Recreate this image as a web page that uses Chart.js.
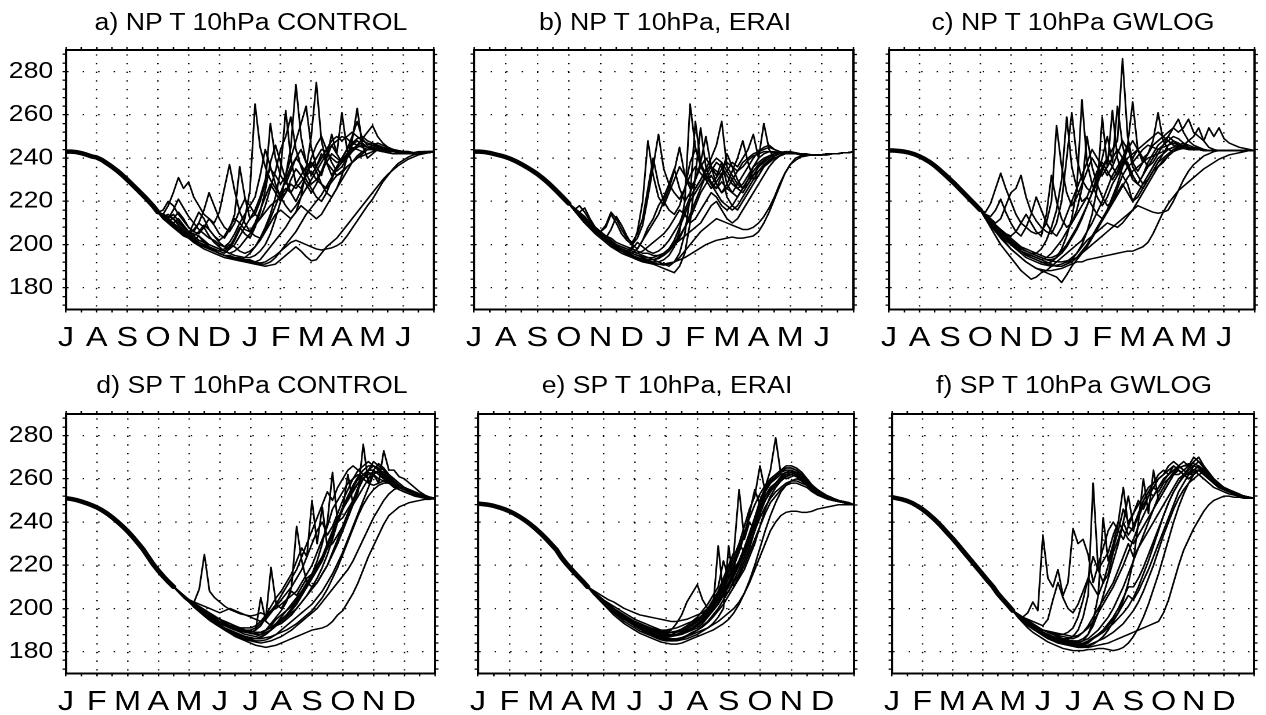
<!DOCTYPE html>
<html>
<head>
<meta charset="utf-8">
<title>Polar cap temperature at 10 hPa</title>
<script src="https://cdn.jsdelivr.net/npm/chart.js@4.4.1/dist/chart.umd.min.js"></script>
<style>
  html, body { margin: 0; padding: 0; background: #fff; }
  body { width: 1266px; height: 715px; position: relative; overflow: hidden;
         font-family: "Liberation Sans", Arial, Helvetica, sans-serif; }
  .panel { position: absolute; transform-origin: 0 0; }
  .panel canvas { display: block; }
  .title { position: absolute; width: 400px; text-align: center; font-size: 23px; line-height: 23px;
           white-space: nowrap; color: #000; transform-origin: 50% 0; }
</style>
</head>
<body>
<script>
// x axis: 5-day steps, 6 per month, 0..72 = one year
const nhMonths = ['J', 'A', 'S', 'O', 'N', 'D', 'J', 'F', 'M', 'A', 'M', 'J'];
const shMonths = ['J', 'F', 'M', 'A', 'M', 'J', 'J', 'A', 'S', 'O', 'N', 'D'];
const yTickLabels = [180, 200, 220, 240, 260, 280];
const titles = [
  'a) NP T 10hPa CONTROL', 'b) NP T 10hPa, ERAI', 'c) NP T 10hPa GWLOG',
  'd) SP T 10hPa CONTROL', 'e) SP T 10hPa, ERAI', 'f) SP T 10hPa GWLOG'
];

// --- a) NP CONTROL: shared bundle Jul-Sep, then members from step 18 (Oct 1)
const aCore = [243, 243, 242.8, 242.3, 241.6, 240.8, 240.3, 239.2, 237.6, 236, 234.2, 232.2, 230, 227.7, 225.4, 223, 220.6, 218, 215];
const aFrom = 18;
const aRuns = [
  [215,213,211,209,207,205, 203,201,199.5,198,197,196, 195,194,193.5,193,192.5,192, 191.5,191,190.5,190,190.5,191, 193,195,197,199,197,194.5, 192.5,193,196,199,201,203, 206,209,212,215,218,221, 224,227,230,232.5,234.5,236.5, 238,239.5,240.5,241.5,242,242.5,243],
  [215,212,210,208,206.5,205, 203,202,204,201,199,198, 197,196,198,202,207,212, 225,265,245,236,230,226, 222,224,228,226,229,232, 234,230,228,226,229,232, 234,236,238,240,241,242, 243,244,244,243.5,243,243, 243,242.5,242.5,242.5,242.5,242.5,243],
  [215,214,213,212,210,208, 206,205,204,202,200,199, 198,197,196,195,194.5,194, 194,195,197,200,205,212, 220,232,245,274,250,238, 232,236,242,238,235,232, 233,236,238,240,242,244, 246,247,246,245,244,243.5, 243,243,242.5,242.5,242.5,242.5,243],
  [215,213,214,212,209,207, 205,203,201,200,198,197, 196,195,195,194,194,193, 193,192,193,196,199,202, 205,208,212,215,222,235, 250,275,248,238,232,236, 240,244,247,249,250,248, 247,246,245,244,243.5,243, 243,242.5,242.5,242.5,242.5,242.5,243],
  [215,214,218,224,231,226, 229,222,218,214,212,210, 215,226,237,225,215,210, 206,204,203,207,212,218, 224,230,236,240,237,233, 228,230,234,240,246,242, 238,241,244,246,247,245, 246,245,244,243,243,243, 242.5,242.5,242.5,243,243,243,243],
  [215,213,211,212,215,212, 208,206,205,208,212,209, 205,203,207,214,236,222, 212,214,220,228,256,240, 232,228,234,240,244,238, 236,240,244,243,240,238, 239,242,245,244,243,244, 244,243.5,243,243,243,242.5, 242.5,242.5,242.5,242.5,243,243,243],
  [215,213,211,209,207,205.5, 204,202,201,200,198.5,197, 196,195,194,193.5,193,194, 196,199,203,208,214,222, 234,262,240,228,226,232, 238,234,228,224,222,226, 232,240,248,263,246,240, 242,244,243,242.5,242,242, 242,242,242,242.5,242.5,242.5,243],
  [215,214,212,210,208,206, 205,210,215,212,207,204, 201,199,198,200,204,208, 212,216,222,230,235,232, 228,232,240,248,256,264, 245,236,232,240,251,242, 261,244,238,240,242,244, 245,246,245,244,243.5,243, 243,242.5,242.5,242.5,242.5,243,243],
  [215,212,210,208,206,204.5, 203,201.5,200,199,198,197, 196,195,194.5,194,193.5,193, 192.5,192,191.5,192,193.5,195, 197,200,203,206,210,214, 217,220,223,227,231,235, 238,240,243,246,249,252, 255,250,247,245,244,243.5, 243,243,242.5,242.5,242.5,242.5,243],
  [215,216,220,218,214,211, 208,206,210,216,224,218, 212,208,206,210,216,221, 218,214,212,218,226,234, 244,250,259,244,236,230, 226,222,220,224,230,236, 240,244,250,257,249,246, 247,246,244.5,244,243.5,243, 243,243,242.5,242.5,242.5,243,243],
  [215,213,211,209.5,208,206, 204,203,201,199.5,198,197, 196,195,194.5,193.5,193,192.5, 192,191.5,191,191,192,194, 197,199,201,202,201,200, 199,198,197.5,198,198.5,199.5, 201,204,207.5,211,214.5,218, 221,225,229,232,235,237.5, 239,240.5,241.5,242,242.5,242.5,243],
  [215,214,212,216,221,217, 213,210,207,205,203,202, 200,199,201,205,210,214, 218,222,232,244,236,228, 222,218,215,218,222,226, 230,234,238,242,246,248, 250,249,247,246,245,244, 244,243.5,243,243,243,243, 242.5,242.5,242.5,242.5,243,243,243],
  [215,213,212,214,211,208, 206,204,206,209,207,204, 202,204,208,212,210,207, 206,210,216,222,228,224, 220,224,230,235,232,228, 224,228,234,238,242,240, 238,242,246,248,246,245, 245,244.5,244,243.5,243,243, 243,242.5,242.5,242.5,242.5,243,243],
  [215,212.5,210,208,206,204, 203,202,200,199,198,197.5, 197,198,200,199,197,196, 197,199,202,206,210,214, 216,214,212,215,218,216, 214,212,214,218,222,226, 230,234,238,241,243,244, 244,244,243.5,243,243,243, 243,242.5,242.5,242.5,242.5,242.5,243],
  [215,213,211,210,212,209, 206,204,202,201,200,199, 198,197,199,203,208,205, 203,208,215,225,238,246, 238,230,224,220,225,232, 240,246,250,244,238,234, 236,240,243,245,246,245, 244.5,244,243.5,243,243,243, 243,242.5,242.5,242.5,242.5,242.5,243],
  [215,213,211,209,207,206, 205,207,210,208,204,201, 199,197,196,197,199,202, 205,209,212,215,218,220, 222,226,224,228,232,236, 238,236,240,244,248,250, 248,250,252,250,248,247, 246,245.5,245,244.5,244,243.5, 243,243,242.5,242.5,242.5,242.5,243]
];

// --- b) NP ERAI
const bCore = [243, 243, 242.8, 242.4, 241.8, 241.2, 240.5, 239.6, 238.5, 237.2, 235.8, 234.3, 232.7, 230.8, 228.7, 226.4, 224, 221.5, 219];
const bFrom = 18;
const bRuns = [
  [219,216,213,210,208,206, 204,202,201,199,198,197, 199,206,220,248,232,222, 218,224,230,236,232,228, 226,230,234,237,240,238, 228,224,222,226,230,232, 234,236,238,240,241,242, 242.5,242,242,241.5,241.5,241.5, 241.5,241.5,242,242,242.5,242.5,243],
  [219,217,214,212,209,207, 205,203,207,213,209,204, 200,203,209,222,236,251, 235,228,224,221,226,232, 236,233,230,234,238,236, 232,228,226,228,232,236, 238,240,241,242,242.5,242.5, 242.5,242,242,242,241.5,241.5, 241.5,242,242,242,242.5,242.5,243],
  [219,216,213,211,208.5,206, 204,202,200,198.5,197,196, 195,194,193,192.5,192,192, 193,195,199,206,220,265, 245,236,232,228,231,235, 238,236,234,236,239,241, 242,243,243,243,242.5,242.5, 242.5,242,242,241.5,241.5,241.5, 241.5,242,242,242,242.5,242.5,243],
  [219,217,215,217,212,208, 206,204,202,200,199,198, 197,196,195,194,193,192, 191,190,192,196,205,222, 257,238,230,226,229,233, 222,218,216,220,224,228, 232,236,238,240,241,242, 242,242,242,241.5,241.5,241.5, 241.5,241.5,242,242,242.5,242.5,243],
  [219,216,214,211,209,207, 205,203,201,199.5,198,196.5, 195,194,193,192,191,190, 189,188,187,190,196,210, 232,254,236,228,224,220, 218,216,218,222,226,230, 234,237,239,241,242,242, 242,242,242,241.5,241.5,241.5, 241.5,242,242,242,242.5,242.5,243],
  [219,216,213,210,208,206, 204,202,200,198,197,196, 198,201,199,197,196,197, 199,202,206,210,216,222, 226,230,235,240,246,257, 236,232,228,226,230,236, 240,242,243,242.5,242.5,242, 242,242,242,241.5,241.5,241.5, 241.5,242,242,242,242.5,242.5,243],
  [219,216,214,212,210,208, 206,204,203,201,200,199, 198,197,196,196,195,195, 196,198,202,208,214,220, 224,228,232,236,234,232, 234,238,236,240,244,251, 240,256,244,240,241,242, 242.5,242.5,242,242,241.5,241.5, 241.5,241.5,242,242,242.5,242.5,243],
  [219,216,213,210,207.5,205, 203,201,199,197.5,196,195, 194,193,192,191.5,191,191, 191,191.5,192,193,194,195.5, 197,198.5,200,201,202,202.5, 203,203.5,203,203,203.5,204, 206,210,215,221,227,233, 237,239,240.5,241,241.5,241.5, 241.5,242,242,242,242.5,242.5,243],
  [219,217,215,213,210,208, 206,208,214,210,205,202, 200,198,202,208,212,218, 222,228,235,226,220,224, 230,236,240,236,232,238, 234,230,226,224,228,232, 236,238,240,242,242.5,242.5, 242,242,242,241.5,241.5,241.5, 241.5,242,242,242,242.5,242.5,243],
  [219,216,214,211,209,206.5, 204.5,202,200,198,197,195.5, 194.5,193.5,192.5,192,191.5,191, 190.5,191,192,194,197,200, 203,206,208,210,212,211, 210,209,208,207,207,208, 210,213,217,222,228,233, 237,240,241,241.5,241.5,241.5, 241.5,242,242,242,242.5,242.5,243],
  [219,216,218,215,211,208, 206,209,215,212,207,203, 201,205,212,226,240,228, 220,216,214,218,226,238, 244,238,232,228,226,229, 226,224,228,232,236,240, 243,245,246,244,243,242.5, 242,242,241.5,241.5,241.5,241.5, 241.5,242,242,242,242.5,242.5,243],
  [219,216,213,211,208,206, 204,202,200,199,198,197, 196,195,194,193,193,193.5, 195,197,200,203,208,214, 220,226,232,229,226,232, 242,236,230,226,228,232, 236,239,241,242,242.5,243, 243,242.5,242,242,241.5,241.5, 241.5,242,242,242,242.5,242.5,243],
  [219,216,213,211,209,207, 205,203,201,200,199,198, 197,196,197,199,201,203, 205,208,212,216,214,210, 212,216,220,224,222,218, 216,218,222,226,230,234, 237,239,241,242,242.5,242.5, 242.5,242,242,241.5,241.5,241.5, 241.5,242,242,242,242.5,242.5,243],
  [219,217,214,212,210,207, 205,203,201,199,198,197, 196,198,202,206,210,214, 220,226,234,245,232,226, 230,238,250,236,228,224, 226,230,234,238,240,242, 243,244,245,244,243,242.5, 242,242,242,241.5,241.5,241.5, 241.5,242,242,242,242.5,242.5,243],
  [219,216,214,212,209,207, 205,202,200,198.5,197,196, 195,194,193.5,193,193,194, 196,198,201,204,208,212, 218,224,228,232,228,224, 228,234,240,248,238,230, 232,236,239,241,242,242.5, 242.5,242,242,241.5,241.5,241.5, 241.5,242,242,242,242.5,242.5,243],
  [219,216,213,210,208,206, 204,202,200,199,198,197, 196,195,194.5,194,194,195, 196,198,200,202,204,206, 208,210,214,218,220,216, 212,210,212,216,220,224, 228,232,236,239,241,242, 242.5,242,242,241.5,241.5,241.5, 241.5,242,242,242,242.5,242.5,243]
];

// --- c) NP GWLOG
const cCore = [243.5, 243.5, 243.3, 243, 242.5, 241.8, 240.8, 239.6, 238.2, 236.5, 234.5, 232.4, 230.2, 228, 225.6, 223.2, 220.8, 218.4, 216];
const cFrom = 18;
const cRuns = [
  [216,212,208,204,200,197, 194,191,188,186,184,185, 187,188,190,192,194,196, 198,200,202,206,210,215, 220,226,232,236,240,238, 232,228,226,230,234,238, 240,242,244,245,245,244, 244,244,243.5,243.5,243.5,243.5, 243.5,243.5,243.5,243.5,243.5,243.5,243.5],
  [216,213,210,207,204,201, 198,196,194,192,190.5,189, 188,187,186,185,182.5,186, 190,193,196,199,203,207, 211,215,219,223,227,231, 234,236,238,240,241,242, 243,244,245,245.5,246,245, 244.5,244,244,243.5,243.5,243.5, 243.5,243.5,243.5,243.5,243.5,243.5,243.5],
  [216,215,219,226,233,226, 220,214,210,208,206,205, 206,210,220,255,236,224, 218,222,228,234,240,236, 232,236,240,244,240,236, 238,241,244,246,245,244, 245,246,247,246,245,244.5, 244,244,243.5,243.5,243.5,243.5, 243.5,243.5,243.5,243.5,243.5,243.5,243.5],
  [216,214,212,210,212,218, 224,226,232,222,215,211, 208,206,205,210,220,240, 261,240,230,226,224,228, 234,240,236,232,238,244, 248,244,240,242,246,248, 250,248,246,245,244.5,244, 244,244,243.5,243.5,243.5,243.5, 243.5,243.5,243.5,243.5,243.5,243.5,243.5],
  [216,213,210,208,206,204, 202,200,198,197,196,196, 198,202,208,216,230,259, 236,226,220,222,228,234, 238,234,230,234,240,246, 236,232,228,230,234,238, 242,246,248,247,245.5,244.5, 244,244,243.5,243.5,243.5,243.5, 243.5,243.5,243.5,243.5,243.5,243.5,243.5],
  [216,213,211,209,207,204, 201,199,197,195,194,193, 192,191.5,192,194,198,204, 212,226,267,238,228,222, 218,222,228,232,236,240, 242,244,240,236,238,242, 246,250,254,258,252,248, 246,245,244,243.5,243.5,243.5, 243.5,243.5,243.5,243.5,243.5,243.5,243.5],
  [216,213,211,208,206,203, 201,199,197,196,195,194, 193,192,191,190,190,191, 193,196,200,206,214,226, 259,236,262,240,232,228, 220,224,228,232,236,240, 242,244,245,246,247,246, 245,244.5,244,243.5,243.5,243.5, 243.5,243.5,243.5,243.5,243.5,243.5,243.5],
  [216,214,212,209,207,205, 203,201,199,198,197,196, 195,194,194,195,197,200, 204,208,213,218,224,230, 236,240,244,248,286,250, 238,234,238,242,246,248, 250,248,246,245,244.5,244, 244,244,243.5,243.5,243.5,243.5, 243.5,243.5,243.5,243.5,243.5,243.5,243.5],
  [216,213,210,208,205,203, 201,199,197,195.5,194,193, 192,191,190.5,190,190,191, 192,194,197,200,204,208, 212,216,222,228,236,246, 266,244,238,242,248,261, 248,244,243,244,246,248, 250,254,248,245,244,243.5, 243.5,243.5,243.5,243.5,243.5,243.5,243.5],
  [216,212.5,209,206,203,200.5, 198,196,194,192,190.5,189, 188.5,188,188,188.5,189,190, 191,192,192,193,193.5,194, 194.5,195,195.5,196,196.5,197, 197,198,199,201,205,210, 215,219,222,225,227,229, 231,233,235,236.5,238,239.5, 240.5,241.5,242,242.5,243,243.5,243.5],
  [216,213,211,208.5,206,204, 202,200,198.5,197,196,195, 194,193,192.5,192,192,192.5, 193,194,196,198,200,202, 204,206,208,210,212,214, 216,218,217,216,215,214.5, 215,216,220,225,230,234, 237,239,241,242,243,243.5, 243.5,243.5,243.5,243.5,243.5,243.5,243.5],
  [216,214,213,216,221,215, 210,206,204,208,214,222, 216,210,206,204,208,214, 220,226,232,238,244,240, 236,232,236,242,248,244, 240,244,246,248,250,252, 250,252,254,252,254,258, 252,250,248,254,250,254, 249,247,246,245,244.5,244,243.5],
  [216,213,210,207,205,203, 201,199,197,196,195,194, 193,194,196,199,202,206, 210,214,218,222,218,214, 212,216,220,224,228,224, 220,222,226,230,234,236, 238,241,243,245,246,245, 244.5,244,243.5,243.5,243.5,243.5, 243.5,243.5,243.5,243.5,243.5,243.5,243.5],
  [216,214,211,209,207,205, 204,206,210,214,210,206, 204,214,232,220,212,208, 210,216,226,250,236,228, 222,218,220,226,232,236, 232,228,232,238,242,246, 248,250,248,246,245,244.5, 244,244,243.5,243.5,243.5,243.5, 243.5,243.5,243.5,243.5,243.5,243.5,243.5],
  [216,213,211,209,206,204, 202,200,198,197,196,195, 194,193,193,194,196,199, 203,207,212,218,224,232, 240,250,238,264,246,236, 230,228,232,236,240,244, 246,248,250,249,247,245, 244.5,244,243.5,243.5,243.5,243.5, 243.5,243.5,243.5,243.5,243.5,243.5,243.5],
  [216,212,209,206,204,202, 200,198,196,194,193,192, 191,190.5,190,190.5,191,192, 194,196,199,202,204,206, 208,210,209,208,210,213, 216,220,224,228,232,236, 239,241,243,244,244.5,244.5, 244,244,243.5,243.5,243.5,243.5, 243.5,243.5,243.5,243.5,243.5,243.5,243.5]
];

// --- d) SP CONTROL: shared bundle Jan-mid Apr, members from step 21
const dCore = [251, 250.7, 250.2, 249.5, 248.7, 247.8, 246.8, 245.5, 244, 242.2, 240.2, 238.1, 235.8, 233.2, 230.4, 227.5, 224, 220.5, 217.5, 214.8, 212.3, 210];
const dFrom = 21;
const dRuns = [
  [210,208,206, 204,203,209,225,208,205, 203,201,199.5,198.5,197.5,197, 196.5,197,198,197,199,200, 202,204,206,208,212,216, 220,226,232,238,246,250, 254,258,260,262,260,258, 257,258,259,258,257,256, 255,254,253,252,251.5,251,251],
  [210,208,205.5, 203.5,201.5,199.5,198,196.5,195, 193.5,192.5,191.5,190.5,190,189.5, 189,190,192,196,219,202, 200,204,208,206,210,214, 216,220,224,230,236,242, 246,250,254,258,262,264, 264,262,260,258,257,256, 255,254,253,252,251.5,251,251],
  [210,208,205.5, 203,201,199,197.5,196,194.5, 193,192,191,190,189,188, 187.5,187,188,190,193,196, 199,203,210,238,222,212, 210,212,216,220,226,232, 238,244,250,256,260,263, 262,260,259,258,257,256, 255,254,253,252,251.5,251,250.5],
  [210,208,206, 204,202,200,199,197.5,196, 195,194,193,191.5,190.5,190, 190,191,193,195,198,201, 204,207,210,214,218,224, 250,230,247,228,230,234, 238,244,250,255,260,264, 266,264,262,260,258,256, 255,254,253,252.5,252,251.5,251],
  [210,208,205.5, 203.5,201,199,197,195.5,194, 192.5,191,190,189,188,187, 186.5,186,186.5,188,190,193, 196,199,202,205,208,212, 216,222,230,240,263,240, 242,246,250,256,260,264, 268,266,264,261,259,257, 256,255,254,253,252,251.5,251],
  [210,208,206, 204,202,200,198,196.5,195, 194,193,192,191,190,189, 188.5,188,188,189,190,192, 194,196,198,200,203,206, 209,212,216,220,225,230, 236,242,248,254,276,258, 262,264,263,261,259,257, 256,254.5,253.5,252.5,252,251.5,251],
  [210,207.5,205, 203,201,199,197,195,193.5, 192,190.5,189,188,187,186, 185.5,185,185,185.5,186.5,188, 190,192,194,196,198,200, 202,205,208,212,216,221, 226,232,238,244,250,256, 262,258,273,264,264,261, 260,258,256,254,252.5,251.5,251],
  [210,207.5,205, 203,200.5,198.5,196.5,194.5,193, 191.5,190,188.5,187,186,185, 184,183,182.5,182,182.5,183, 184,185,186,187,188,189, 190,190.5,191,192,194,197, 199,203,207,212,218,224, 229,234,239,243,245,247, 248,249,249.5,250,250.5,250.5,251],
  [210,208,206, 204,202.5,201,199.5,198,196.5, 195,193.5,192,191,190,189.5, 189,190,205,194,192,195, 197,199,201,204,207,210, 214,218,222,228,234,240, 246,252,256,260,262,264, 264,262,260,258,256,255, 254,253,252.5,252,251.5,251,251],
  [210,208,205.5, 203,201,199,197,195,193.5, 192,190.5,189,188,187,186.5, 186,186,187,188.5,190,192, 193,195,197,200,203,206, 210,214,219,225,232,240, 246,262,248,252,256,260, 264,267,265,262,260,258, 256,255,254,253,252,251.5,251],
  [210,207.5,205, 203,201,199,197,195,193, 191.5,190,188.5,187.5,186.5,185.5, 185,184.5,184,184.5,185,186, 187,188.5,190,192,194,196, 198,200,203,206,209,212, 215,218,222,227,232,237, 242,246,250,253,255,256, 256,255,254,253,252,251.5,251],
  [210,208,206, 204,203,202,201,200,199, 198,199,200,199,198,197, 196,195,194,196,199,202, 206,210,214,218,224,230, 236,242,248,254,250,256, 260,264,266,264,262,260, 262,264,262,260,258,256, 255,254,253,252,251.5,251,251],
  [210,208,205.5, 203,201,199,197.5,196,194.5, 193,192,191,190,189.5,189, 188.5,188.5,189,190,191.5,193, 195,197,200,203,207,211, 215,219,224,229,235,241, 247,252,257,261,264,266, 266,265,262,260,258,256, 255,254,253,252,251.5,251,251],
  [210,208,206, 204,202,200,198.5,197,195.5, 194,193,192,191.5,191,191, 191,192,194,197,201,205, 208,212,216,222,228,224, 230,236,240,234,238,244, 250,255,260,264,266,268, 266,264,261,259,257,255, 254,253,252,251.5,251,251,251],
  [210,207.5,205, 203,201,199,197,195,193.5, 192,190.5,189.5,188.5,187.5,187, 186.5,186,186,186.5,187,188, 189,190,191.5,193,195,197, 199,202,205,209,214,219, 225,231,237,243,248,252, 255,257,258,258,257,256, 255,254,253,252,251.5,251,251],
  [210,208,206, 204,202,200.5,199,197.5,196, 195,194,193,192,191,190, 189.5,189,189,190,191,192.5, 194,196,199,202,206,210, 214,218,223,228,234,240, 246,251,255,258,260,262, 263,263,261,259,257,255, 254,253,252.5,252,251.5,251,251]
];

// --- e) SP ERAI
const eCore = [248.5, 248.3, 248, 247.5, 246.8, 246, 245, 243.8, 242.4, 240.8, 239, 237, 234.8, 232.4, 229.8, 227.2, 223.5, 220.5, 217.8, 215.2, 212.7, 210];
const eFrom = 21;
const eRuns = [
  [210,207.5,205, 203,201,199,197.5,196,194.5, 193,192,191,190,189.5,189, 189,190,193,197,203,207, 211,204,200,202,206,210, 214,218,222,228,234,240, 246,252,256,258,260,262, 263,262,261,259,257,255, 253.5,252,251,250,249,248.5,248],
  [210,208,205.5, 203.5,201.5,199.5,198,196.5,195, 194,193,192,191,190,189, 188.5,188,188,188.5,189,190, 191,193,196,200,229,206, 208,212,216,222,228,236, 244,250,254,258,260,262, 262,261,260,258,256,254, 253,252,251,250,249,248.5,248],
  [210,207.5,205, 203,200.5,198.5,196.5,195,193.5, 192,190.5,189,188,187,186, 185.5,185,185,185.5,186,187, 188,189.5,191,193,196,200, 229,210,214,218,224,230, 238,246,252,256,259,261, 262,261,259,257,255,253, 252,251,250,249.5,249,248.5,248],
  [210,208,206, 204,202,200,198,196.5,195, 193.5,192,191,190,189,188.5, 188,188,189,190,191.5,193, 195,197,200,203,207,212, 218,224,230,238,246,252, 266,254,258,260,262,263, 264,262,260,258,256,254, 253,252,251,250,249.5,249,248],
  [210,207.5,205, 203,201,199,197,195.5,194, 192.5,191,190,189,188,187.5, 187,187,187.5,188,189,190.5, 192,194,196,199,202,206, 210,215,220,226,232,240, 248,256,264,279,262,260, 261,262,260,258,256,254, 252.5,251.5,250.5,250,249,248.5,248],
  [210,207,204.5, 202,199.5,197,195,193,191.5, 190,188.5,187.5,186.5,185.5,184.5, 184,183.5,183.5,184,185,186, 187,188,189,190,191.5,193, 195,198,202,207,213,220, 228,236,243,249,254,257, 259,259,258,257,255,253, 252,251,250,249.5,249,248.5,248],
  [210,208,205.5, 203.5,201.5,199.5,197.5,196,194.5, 193,192,191,190,189,188, 187.5,187.5,188,189,190,191, 193,195,198,201,205,209, 214,220,226,234,244,255, 248,252,256,258,260,261, 262,263,261,259,257,254, 253,252,251,250,249.5,249,248],
  [210,207.5,205, 202.5,200,198,196,194,192.5, 191,189.5,188.5,187.5,186.5,185.5, 185,185,185.5,186,187,188, 189,190,191,192.5,194,196, 198,200,203,207,212,218, 224,230,236,240,243,244.5, 245,245,244.5,244.5,245,246, 246.5,247,247.5,248,248,248,248],
  [210,208,206, 204,202.5,201,199.5,198,196.5, 195,194,193,192,191,190, 189.5,189,189,189.5,190.5,192, 194,196,198,201,204,208, 212,217,222,228,235,242, 249,254,258,261,263,265, 265,264,262,259,256,253, 252,251,250,249.5,249,248.5,248],
  [210,208.5,207, 205.5,204,203,201.5,200,199, 198,197,196.5,196,195.5,195, 194.5,194,194,194.5,195,196, 197,198,200,202,205,208, 212,216,221,226,232,238, 244,250,255,258,261,263, 263,262,260,258,255,253, 252,251,250,249.5,249,248.5,248],
  [210,207.5,205, 203,201,199,197.5,196,194.5, 193,191.5,190,189,188,187, 186.5,186,186,186.5,187.5,189, 190,192,194,197,200,204, 208,213,218,224,230,236, 242,247,251,254,256,258, 259,260,259,257,255,253, 252,251,250,249.5,249,248.5,248],
  [210,208,205.5, 203.5,201.5,199.5,198,196.5,195, 194,193,192,191,190.5,190, 190,190.5,191,192,193,194, 195,197,200,204,208,214, 220,226,255,232,240,236, 246,254,260,262,264,266, 266,265,263,260,257,255, 253,252,251,250,249,248.5,248],
  [210,207.5,205, 203,201,199,197,195.5,194, 192.5,191.5,190.5,189.5,188.5,188, 187.5,187.5,188,188.5,189.5,191, 192.5,194.5,197,200,203,207, 211,216,221,227,233,239, 245,250,254,257,259,261, 262,261,260,258,256,254, 252.5,251.5,250.5,250,249,248.5,248],
  [210,208,206, 204,202,200,198.5,197,195.5, 194,193,192,191,190,189.5, 189,189,189.5,190,191,192.5, 194,196,199,202,206,211, 216,222,228,235,242,248, 253,257,260,262,264,265, 265,264,262,260,257,255, 253,252,251,250,249,248.5,248],
  [210,207.5,205, 202.5,200.5,198.5,196.5,195,193.5, 192,190.5,189.5,188.5,187.5,186.5, 186,185.5,185.5,186,187,188.5, 190,191.5,193.5,196,199,202, 206,210,215,220,226,232, 238,244,249,252,255,257, 258,258,257,256,254,252.5, 251.5,250.5,250,249.5,249,248.5,248],
  [210,208,205.5, 203.5,201.5,199.5,198,196.5,195, 193.5,192.5,191.5,190.5,190,189.5, 189,189,189.5,190.5,192,194, 196,199,202,206,210,222, 214,218,230,226,234,242, 250,256,259,261,263,264, 264,263,261,258,256,254, 252.5,251.5,250.5,250,249,248.5,248]
];

// --- f) SP GWLOG: members from step 24 (May 1)
const fCore = [251.5, 251, 250.5, 249.8, 248.8, 247.5, 246, 244.2, 242.2, 240, 237.6, 235, 232.5, 229.8, 227, 224.2, 221.4, 218.6, 215.8, 213, 210.3, 207, 204.3, 201.7, 199];
const fFrom = 24;
const fRuns = [
  [199,197,196,198,203,199, 234,214,210,218,206,212, 237,230,232,225,212,220, 228,236,240,236,232,238, 244,250,246,252,256,254, 258,260,262,264,262,260, 262,264,262,260,258,256, 255,254,253,252.5,252,251.5,251],
  [199,196.5,194.5,193,191.5,190, 189,188,187,186.5,186,186, 187,190,196,206,258,218, 222,226,234,240,236,232, 230,234,238,242,246,250, 254,258,262,262,264,266, 264,262,260,258,256,255, 254,253,252.5,252,251.5,251,251],
  [199,197,195,193.5,192,190.5, 189,188,187,186,185,184.5, 184,184,185,188,194,206, 242,222,230,240,256,238, 236,244,250,254,258,260, 262,264,266,264,262,262, 264,266,264,261,258,256, 255,254,253,252.5,252,251.5,251],
  [199,197,195,193,191.5,190, 188.5,187,186,185,184,183, 182.5,182,182,182.5,183.5,185, 187,190,194,198,204,212, 222,240,260,244,264,250, 254,258,262,266,268,266, 270,268,266,263,260,257, 256,255,254,253,252,251.5,251],
  [199,197.5,196,194.5,193,191.5, 190,189,188,187,186,185.5, 185,185,186,188,192,198, 206,214,222,230,240,252, 238,242,248,252,256,260, 262,266,268,266,264,262, 262,264,262,260,258,256, 255,254,253,252,251.5,251,251],
  [199,196,193.5,191,189,187.5, 186,184.5,183.5,182.5,181.5,181, 180.5,180.5,180.5,181,181,181.5, 181.5,181,180.5,181,182,184, 187,191,196,202,209,216, 224,232,240,247,253,258, 262,264,263,261,259,257, 255.5,254.5,253.5,252.5,252,251.5,251],
  [199,196.5,194,192,190.5,189, 187.5,186,185,184,183.5,183, 182.5,182,182,182,182.5,183, 183.5,184,185,186,187,188, 189,190,191,192,193,194, 198,204,212,220,227,232, 237,241,245,248,250,251, 252,252,251.5,251.5,251,251,251],
  [199,197,195.5,194,192.5,191, 190,189,188,187.5,187,186.5, 186,187,189,192,196,200, 204,208,212,218,224,230, 224,228,232,236,240,244, 248,252,256,260,262,264, 266,265,263,260,258,256, 255,254,253,252,251.5,251,251],
  [199,197,195,193,191.5,190, 188.5,187.5,186.5,185.5,184.5,184, 183.5,183.5,184,185,186.5,188, 190,193,196,200,205,210, 210,214,219,225,231,237, 243,249,254,258,262,265, 268,270,266,262,259,257, 255.5,254.5,253.5,252.5,252,251.5,251],
  [199,197,195,193.5,192,190.5, 189,188,187,186,185,184, 183,182.5,182.5,183,184,185, 186,187.5,189,191,193,196, 199,203,208,214,220,227, 234,240,246,251,255,258, 260,262,263,262,260,258, 256,255,254,253,252,251.5,251],
  [199,197.5,196,195,194,193, 192,195,204,212,205,200, 198,202,208,214,210,206, 212,220,228,236,246,240, 244,248,252,256,258,262, 264,262,266,264,262,260, 262,264,262,260,258,256, 255,254,253,252,251.5,251,251],
  [199,197,195,193,191,189.5, 188,186.5,185.5,184.5,183.5,183, 182.5,182.5,183,184,186,188, 190,192,195,198,202,206, 204,208,213,218,224,230, 236,242,248,254,258,262, 266,268,265,262,259,257, 255.5,254.5,253.5,252.5,252,251.5,251],
  [199,197,195,193,191.5,190, 189,188,187,186,185.5,185, 184.5,184.5,185,186,188,190, 193,196,200,205,210,216, 222,228,234,240,246,252, 256,260,263,265,266,267, 267,266,264,261,258,256, 255,254,253,252.5,252,251.5,251],
  [199,197,195.5,194,192.5,191, 190,189,188.5,188,188,189, 191,196,204,214,224,218, 212,216,226,232,240,234, 238,244,250,254,252,256, 260,262,264,266,264,262, 263,264,262,260,258,256, 255,254,253,252.5,252,251.5,251],
  [199,196.5,194.5,192.5,191,189.5, 188,187,186,185,184,183.5, 183,183,183.5,184.5,186,187.5, 189,191,193,195.5,198,201, 205,210,216,222,229,236, 243,249,254,258,261,263, 264,264,263,261,259,257, 255.5,254.5,253.5,252.5,252,251.5,251],
  [199,197,195,193.5,192,191, 190,189.5,189,188.5,188,187.5, 187,187.5,189,191,194,198, 202,206,210,215,220,226, 232,238,243,248,252,256, 259,262,264,265,266,266, 266,265,263,261,258,256, 255,254,253,252.5,252,251.5,251]
];

// ---------------------------------------------------------------------
const S = 1.16;                 // the figure is stretched horizontally
const FONT = '"Liberation Sans", Arial, Helvetica, sans-serif';
const halfMonths = [];
for (let v = 0; v <= 72; v += 3) halfMonths.push(v);
const yMinor = [];
for (let v = 172; v <= 288; v += 4) yMinor.push(v);

const panels = [
  { title: titles[0], months: nhMonths, core: aCore, from: aFrom, runs: aRuns, yLab: true,  x0: 66,    x1: 436,    top: 0,   y0: 50,  y1: 309.5, h: 357, tTop: 10.5 },
  { title: titles[1], months: nhMonths, core: bCore, from: bFrom, runs: bRuns, yLab: false, x0: 474,   x1: 856,    top: 0,   y0: 50,  y1: 309.5, h: 357, tTop: 10.5 },
  { title: titles[2], months: nhMonths, core: cCore, from: cFrom, runs: cRuns, yLab: false, x0: 888.5, x1: 1256.5, top: 0,   y0: 50,  y1: 309.5, h: 357, tTop: 10.5 },
  { title: titles[3], months: shMonths, core: dCore, from: dFrom, runs: dRuns, yLab: true,  x0: 66,    x1: 438,    top: 364, y0: 414, y1: 673.3, h: 351, tTop: 374 },
  { title: titles[4], months: shMonths, core: eCore, from: eFrom, runs: eRuns, yLab: false, x0: 477.5, x1: 856,    top: 364, y0: 414, y1: 673.3, h: 351, tTop: 374 },
  { title: titles[5], months: shMonths, core: fCore, from: fFrom, runs: fRuns, yLab: false, x0: 891.5, x1: 1256,   top: 364, y0: 414, y1: 673.3, h: 351, tTop: 374 }
];

const toPts = (vals, start) => vals.map((v, k) => ({ x: start + k, y: v }));
const clear = 'rgba(0,0,0,0)';

function makePanel(p) {
  const padL = 66, padR = 8;
  const localW = Math.round((p.x1 - p.x0 + padL + padR) / S);
  const wl = padL / S;
  const wr = localW - wl - (p.x1 - p.x0) / S;
  const topH = p.y0 - p.top;
  const botH = p.h - (p.y1 - p.top);

  const wrap = document.createElement('div');
  wrap.className = 'panel';
  wrap.style.left = (p.x0 - padL) + 'px';
  wrap.style.top = p.top + 'px';
  wrap.style.transform = `scaleX(${S})`;
  const cv = document.createElement('canvas');
  cv.width = localW;
  cv.height = p.h;
  wrap.appendChild(cv);
  document.body.appendChild(wrap);

  const t = document.createElement('div');
  t.className = 'title';
  t.textContent = p.title;
  t.style.left = ((p.x0 + p.x1) / 2 - 200) + 'px';
  t.style.top = p.tTop + 'px';
  t.style.transform = `scaleX(${S})`;
  document.body.appendChild(t);

  const datasets = [{ data: toPts(p.core, 0), borderWidth: 4.5 }]
    .concat(p.runs.map(r => ({ data: toPts(r, p.from), borderWidth: 1.5 })))
    .map(d => ({ ...d, borderColor: '#000', pointRadius: 0, fill: false, tension: 0 }));

  const tickGrid = { drawOnChartArea: false, tickLength: 3, tickColor: '#000', tickWidth: 1.3 };
  const frame = { display: true, color: '#000', width: 2 };

  new Chart(cv, {
    type: 'line',
    data: { datasets },
    options: {
      responsive: false,
      animation: false,
      devicePixelRatio: 2,
      events: [],
      layout: { padding: 0 },
      elements: { line: { borderJoinStyle: 'round', borderCapStyle: 'round' } },
      plugins: { legend: { display: false }, tooltip: { enabled: false }, title: { display: false } },
      scales: {
        x: {
          type: 'linear', position: 'bottom', min: 0, max: 72,
          afterBuildTicks: ax => { ax.ticks = halfMonths.map(v => ({ value: v })); },
          afterFit: ax => { ax.height = botH; },
          ticks: {
            autoSkip: false, maxRotation: 0, minRotation: 0, padding: 9, color: '#000',
            font: { family: FONT, size: 28 },
            callback: v => (v % 6 === 0 && v < 72) ? p.months[v / 6] : ''
          },
          grid: {
            color: c => (c.tick && c.tick.value % 6 === 0 && c.tick.value > 0 && c.tick.value < 72) ? '#000' : clear,
            lineWidth: 1.3, tickLength: 3, tickColor: '#000', tickWidth: 1.3
          },
          border: { ...frame, dash: [1.3, 7.35], dashOffset: 4.3 }
        },
        x2: {
          type: 'linear', position: 'top', min: 0, max: 72,
          afterBuildTicks: ax => { ax.ticks = halfMonths.map(v => ({ value: v })); },
          afterFit: ax => { ax.height = topH; },
          ticks: { display: false },
          grid: tickGrid, border: frame
        },
        y: {
          type: 'linear', position: 'left', min: 170, max: 290,
          afterBuildTicks: ax => { ax.ticks = yMinor.map(v => ({ value: v })); },
          afterFit: ax => { ax.width = wl; },
          ticks: {
            display: p.yLab, autoSkip: false, padding: 8, color: '#000',
            font: { family: FONT, size: 23 },
            callback: v => yTickLabels.includes(v) ? String(v) : ''
          },
          grid: {
            color: c => (c.tick && yTickLabels.includes(c.tick.value)) ? '#000' : clear,
            lineWidth: 1.3, tickLength: 3, tickColor: '#000', tickWidth: 1.3
          },
          border: { ...frame, dash: [1.2, 12.1] }
        },
        y2: {
          type: 'linear', position: 'right', min: 170, max: 290,
          afterBuildTicks: ax => { ax.ticks = yMinor.map(v => ({ value: v })); },
          afterFit: ax => { ax.width = wr; },
          ticks: { display: false },
          grid: tickGrid, border: frame
        }
      }
    }
  });
}

panels.forEach(makePanel);
</script>
</body>
</html>
